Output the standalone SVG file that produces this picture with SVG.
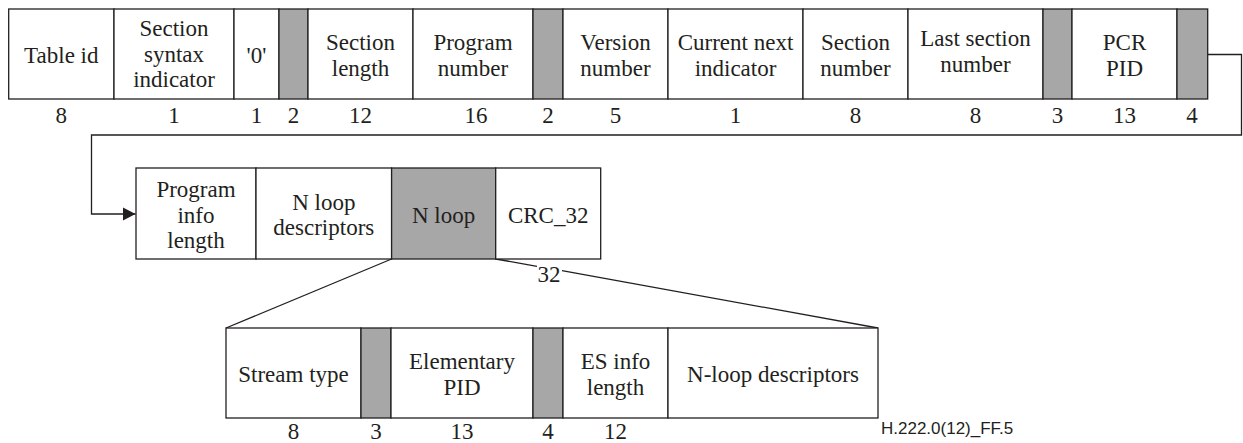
<svg xmlns="http://www.w3.org/2000/svg" width="1243" height="443" viewBox="0 0 1243 443">
<defs>
<style>
.b{fill:#ffffff;stroke:#231f20;stroke-width:1.3}
.g{fill:#a7a7a7;stroke:#231f20;stroke-width:1.3}
.t{font-family:"Liberation Serif","Times New Roman",serif;font-size:23px;fill:#231f20;text-anchor:middle}
.l{fill:none;stroke:#231f20;stroke-width:1.3}
.s{font-family:"Liberation Sans",Arial,sans-serif;font-size:17px;fill:#231f20}
</style>
<marker id="arr" markerWidth="14" markerHeight="14" refX="13" refY="7" orient="auto" markerUnits="userSpaceOnUse">
<path d="M0,0.3 L13,7 L0,13.7 Z" fill="#231f20"/>
</marker>
</defs>
<rect width="1243" height="443" fill="#ffffff"/>

<g id="connectors">
<path class="l" d="M1207.7,54.5 H1241.5 V135 H91.5 V214 H135.5" marker-end="url(#arr)"/>
<line class="l" x1="391.6" y1="259" x2="226" y2="328"/>
<line class="l" x1="495.7" y1="259" x2="537" y2="266.3"/>
<line class="l" x1="562" y1="270.6" x2="878" y2="328"/>
<text class="t" x="549" y="282">32</text>
</g>

<g id="table-id"><rect class="b" x="8.7" y="9" width="105.3" height="90"/><text class="t" x="61.3" y="63">Table id</text><text class="t" x="61.3" y="123">8</text></g>
<g id="section-syntax-indicator"><rect class="b" x="114" y="9" width="120" height="90"/><text class="t" x="174" y="36">Section</text><text class="t" x="174" y="61.7">syntax</text><text class="t" x="174" y="87.3">indicator</text><text class="t" x="174" y="123">1</text></g>
<g id="zero-bit"><rect class="b" x="234" y="9" width="45" height="90"/><text class="t" x="256.5" y="63">'0'</text><text class="t" x="256.5" y="123">1</text></g>
<g id="reserved1"><rect class="g" x="279" y="9" width="29" height="90"/><text class="t" x="293.5" y="123">2</text></g>
<g id="section-length"><rect class="b" x="308" y="9" width="105" height="90"/><text class="t" x="360.5" y="50">Section</text><text class="t" x="360.5" y="76">length</text><text class="t" x="360.5" y="123">12</text></g>
<g id="program-number"><rect class="b" x="413" y="9" width="120" height="90"/><text class="t" x="473" y="50">Program</text><text class="t" x="473" y="76">number</text><text class="t" x="476" y="123">16</text></g>
<g id="reserved2"><rect class="g" x="533" y="9" width="30" height="90"/><text class="t" x="548" y="123">2</text></g>
<g id="version-number"><rect class="b" x="563" y="9" width="105" height="90"/><text class="t" x="615.5" y="50">Version</text><text class="t" x="615.5" y="76">number</text><text class="t" x="615.5" y="123">5</text></g>
<g id="current-next-indicator"><rect class="b" x="668" y="9" width="135" height="90"/><text class="t" x="735.5" y="50">Current next</text><text class="t" x="735.5" y="76">indicator</text><text class="t" x="735.5" y="123">1</text></g>
<g id="section-number"><rect class="b" x="803" y="9" width="105" height="90"/><text class="t" x="855.5" y="50">Section</text><text class="t" x="855.5" y="76">number</text><text class="t" x="855.5" y="123">8</text></g>
<g id="last-section-number"><rect class="b" x="908" y="9" width="135" height="90"/><text class="t" x="975.5" y="46">Last section</text><text class="t" x="975.5" y="72">number</text><text class="t" x="975.5" y="123">8</text></g>
<g id="reserved3"><rect class="g" x="1043" y="9" width="29" height="90"/><text class="t" x="1057.5" y="123">3</text></g>
<g id="pcr-pid"><rect class="b" x="1072" y="9" width="105" height="90"/><text class="t" x="1124.5" y="50">PCR</text><text class="t" x="1124.5" y="76">PID</text><text class="t" x="1124.5" y="123">13</text></g>
<g id="reserved4"><rect class="g" x="1177" y="9" width="30.7" height="90"/><text class="t" x="1192" y="123">4</text></g>

<g id="program-info-length"><rect class="b" x="136" y="168" width="120" height="91"/><text class="t" x="196" y="196.8">Program</text><text class="t" x="196" y="222.5">info</text><text class="t" x="196" y="248.2">length</text></g>
<g id="n-loop-descriptors"><rect class="b" x="256" y="168" width="135.6" height="91"/><text class="t" x="323.8" y="209.7">N loop</text><text class="t" x="323.8" y="235.3">descriptors</text></g>
<g id="n-loop"><rect class="g" x="391.6" y="168" width="104.1" height="91"/><text class="t" x="443.6" y="222.5">N loop</text></g>
<g id="crc-32"><rect class="b" x="495.7" y="168" width="105" height="91"/><text class="t" x="548.2" y="222.5">CRC_32</text></g>

<g id="stream-type"><rect class="b" x="226" y="328" width="135" height="90"/><text class="t" x="293.5" y="382">Stream type</text><text class="t" x="293.5" y="439">8</text></g>
<g id="reserved5"><rect class="g" x="361" y="328" width="30" height="90"/><text class="t" x="376" y="439">3</text></g>
<g id="elementary-pid"><rect class="b" x="391" y="328" width="142" height="90"/><text class="t" x="462" y="369">Elementary</text><text class="t" x="462" y="395">PID</text><text class="t" x="462" y="439">13</text></g>
<g id="reserved6"><rect class="g" x="533" y="328" width="30" height="90"/><text class="t" x="548" y="439">4</text></g>
<g id="es-info-length"><rect class="b" x="563" y="328" width="105" height="90"/><text class="t" x="615.5" y="369">ES info</text><text class="t" x="615.5" y="395">length</text><text class="t" x="615.5" y="439">12</text></g>
<g id="n-loop-descriptors-2"><rect class="b" x="668" y="328" width="210" height="90"/><text class="t" x="773" y="382">N-loop descriptors</text></g>

<text class="s" x="881" y="434">H.222.0(12)_FF.5</text>
</svg>
